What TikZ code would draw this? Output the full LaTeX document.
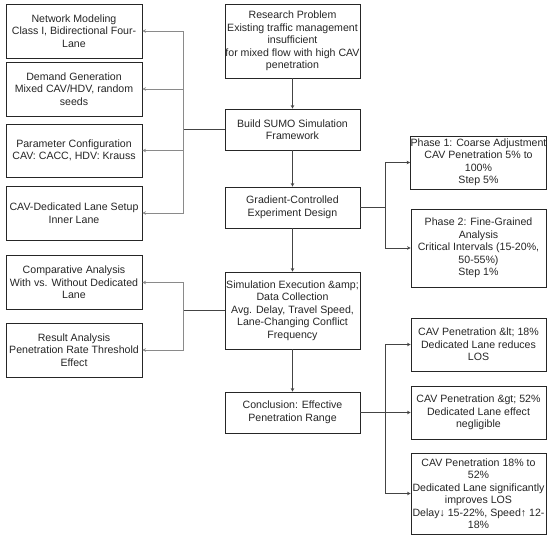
\documentclass[tikz,border=0pt]{standalone}
\usepackage{fontspec}
\setmainfont{Liberation Sans}
\usetikzlibrary{arrows.meta}
\definecolor{trunk}{HTML}{444444}
\definecolor{branch}{HTML}{8A8A8A}
\begin{document}
\begin{tikzpicture}[x=1pt,y=-1pt,
  box/.style={draw=black!85,line width=0.9pt,align=center,inner sep=0pt,
    font=\fontsize{10.6}{12.5}\selectfont,text=black!85},
  trunkline/.style={draw=trunk,line width=0.8pt},
  branchline/.style={draw=branch,line width=0.7pt},
  tip/.style={-{Stealth[length=3.5pt,width=3.5pt]}}]
\useasboundingbox[fill=white] (0,0) rectangle (550,537);
% left column
\node[box,minimum width=136pt,minimum height=54pt] (net) at (74,31) {Network Modeling\\Class I, Bidirectional Four-\\Lane};
\node[box,minimum width=136pt,minimum height=54pt] (dem) at (74,89) {Demand Generation\\Mixed CAV/HDV, random\\seeds};
\node[box,minimum width=136pt,minimum height=53pt] (par) at (74,150.5) {Parameter Configuration\\CAV: CACC, HDV: Krauss};
\node[box,minimum width=136pt,minimum height=54pt] (lane) at (74,213) {CAV-Dedicated Lane Setup\\Inner Lane};
\node[box,minimum width=136pt,minimum height=54pt] (cmp) at (74,282.5) {Comparative Analysis\\With vs. Without Dedicated\\Lane};
\node[box,minimum width=136pt,minimum height=54pt] (res) at (74,350) {Result Analysis\\Penetration Rate Threshold\\Effect};
% centre column
\node[box,minimum width=135pt,minimum height=74pt] (rp) at (292.5,41) {Research Problem\\Existing traffic management\\insufficient\\for mixed flow with high CAV\\penetration};
\node[box,minimum width=135pt,minimum height=41pt] (sumo) at (292.5,129.5) {Build SUMO Simulation\\Framework};
\node[box,minimum width=135pt,minimum height=41pt] (grad) at (292.5,207.5) {Gradient-Controlled\\Experiment Design};
\node[box,minimum width=135pt,minimum height=77pt] (sim) at (292.5,310.5) {Simulation Execution \&amp;\\Data Collection\\Avg. Delay, Travel Speed,\\Lane-Changing Conflict\\Frequency};
\node[box,minimum width=135pt,minimum height=41pt] (conc) at (292.5,412.5) {Conclusion: Effective\\Penetration Range};
% right column
\node[box,minimum width=135pt,minimum height=53pt] (ph1) at (478.5,162.5) {Phase 1: Coarse Adjustment\\CAV Penetration 5\% to\\100\%\\Step 5\%};
\node[box,minimum width=135pt,minimum height=78pt] (ph2) at (478.5,248) {Phase 2: Fine-Grained\\Analysis\\Critical Intervals (15-20\%,\\50-55\%)\\Step 1\%};
\node[box,minimum width=135pt,minimum height=53pt] (c1) at (478.5,344.5) {CAV Penetration \&lt; 18\%\\Dedicated Lane reduces\\LOS};
\node[box,minimum width=135pt,minimum height=53pt] (c2) at (478.5,412.5) {CAV Penetration \&gt; 52\%\\Dedicated Lane effect\\negligible};
\node[box,minimum width=135pt,minimum height=81pt] (c3) at (478.5,493.5) {CAV Penetration 18\% to\\52\%\\Dedicated Lane significantly\\improves LOS\\Delay↓ 15-22\%, Speed↑ 12-\\18\%};
% bus points
\coordinate (busA) at (183,129.5);
\coordinate (busB) at (183,310.5);
\coordinate (busC) at (385,207.5);
\coordinate (busD) at (385,412.5);
% vertical flow
\draw[trunkline,tip] (rp) -- (sumo);
\draw[trunkline,tip] (sumo) -- (grad);
\draw[trunkline,tip] (grad) -- (sim);
\draw[trunkline,tip] (sim) -- (conc);
% left branches from SUMO
\draw[trunkline] (sumo.west) -- (busA);
\foreach \n in {net,dem,par,lane}
  \draw[branchline,tip] (busA) |- (\n.east);
% left branches from simulation
\draw[trunkline] (sim.west) -- (busB);
\foreach \n in {cmp,res}
  \draw[branchline,tip] (busB) |- (\n.east);
% right branches from gradient
\draw[trunkline] (grad.east) -- (busC);
\foreach \n in {ph1,ph2}
  \draw[trunkline,tip] (busC) |- (\n.west);
% right branches from conclusion
\draw[trunkline] (conc.east) -- (busD);
\foreach \n in {c1,c2,c3}
  \draw[trunkline,tip] (busD) |- (\n.west);
\end{tikzpicture}
\end{document}
